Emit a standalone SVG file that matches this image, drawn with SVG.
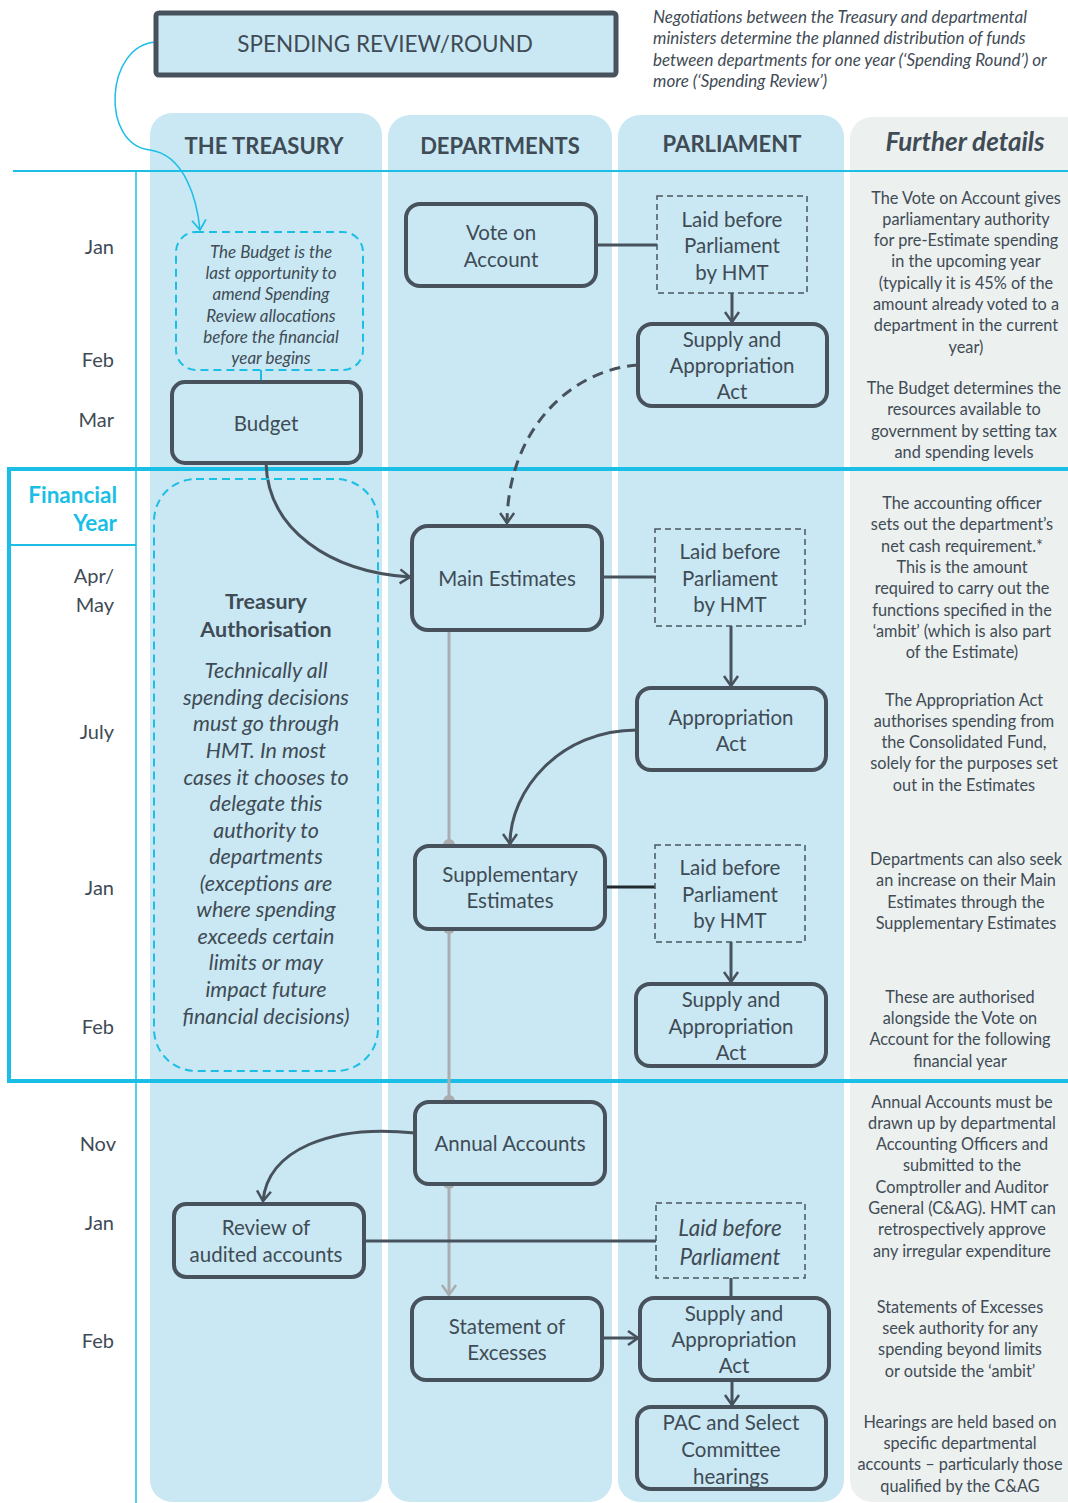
<svg xmlns="http://www.w3.org/2000/svg" width="1068" height="1503" viewBox="0 0 1068 1503">
<defs>
<style>
text{font-family:Lato,"Liberation Sans",sans-serif;fill:#3f4b55;}
.c{text-anchor:middle;dominant-baseline:central;}
.m{text-anchor:end;dominant-baseline:central;font-size:20px;}
.t{font-size:20.5px;}
.ta{font-size:21.5px;}
.h{font-size:22px;font-weight:bold;}
.d{font-size:16.3px;}
.n{font-size:17px;}
.i{font-style:italic;}
.col{fill:#c9e8f3;}
.box{fill:#c9e8f3;stroke:#47525c;stroke-width:4;}
.dash{fill:none;stroke:#4a555f;stroke-width:1.5;stroke-dasharray:6 4;}
.cdash{fill:none;stroke:#1bbfe6;stroke-width:2;stroke-dasharray:8 5;}
.ln{fill:none;stroke:#47525c;stroke-width:3;}
.gl{fill:none;stroke:#a9adb0;stroke-width:3;}
.cy{stroke:#1bbfe6;fill:none;}
</style>
<marker id="arr" viewBox="0 0 14 18" refX="12" refY="9" markerWidth="14" markerHeight="18" orient="auto" markerUnits="userSpaceOnUse"><path d="M2,2 L12,9 L2,16" fill="none" stroke="#47525c" stroke-width="2.5"/></marker>
<marker id="garr" viewBox="0 0 14 18" refX="12" refY="9" markerWidth="14" markerHeight="18" orient="auto" markerUnits="userSpaceOnUse"><path d="M2,2 L12,9 L2,16" fill="none" stroke="#a9adb0" stroke-width="2.5"/></marker>
<marker id="carr" viewBox="0 0 14 18" refX="12" refY="9" markerWidth="14" markerHeight="18" orient="auto" markerUnits="userSpaceOnUse"><path d="M2,2 L12,9 L2,16" fill="none" stroke="#1bbfe6" stroke-width="1.8"/></marker>
</defs>
<rect width="1068" height="1503" fill="#ffffff"/>

<g id="columns">
<rect class="col" x="150" y="113" width="232" height="1389" rx="22"/>
<rect class="col" x="388" y="115" width="224" height="1387" rx="22"/>
<rect class="col" x="618" y="115" width="226" height="1387" rx="22"/>
<rect x="850" y="117" width="240" height="1385" rx="22" fill="#ecf0ef"/>
<text class="c h" x="264" y="145">THE TREASURY</text>
<text class="c h" x="500" y="145">DEPARTMENTS</text>
<text class="c h" x="732" y="143">PARLIAMENT</text>
<text class="c h i" x="965" y="141" style="font-size:26px">Further details</text>
</g>

<g id="timeline">
<line class="cy" x1="13" y1="171" x2="1068" y2="171" stroke-width="2"/>
<line class="cy" x1="136" y1="171" x2="136" y2="1503" stroke-width="1.5"/>
<rect class="cy" x="9" y="469" width="1070" height="612" stroke-width="4"/>
<line class="cy" x1="9" y1="545" x2="136" y2="545" stroke-width="2"/>
<text class="m" x="117" y="494" style="fill:#1bbfe6;font-weight:bold;font-size:22.5px">Financial</text>
<text class="m" x="117" y="522" style="fill:#1bbfe6;font-weight:bold;font-size:22.5px">Year</text>
<text class="m" x="114" y="246">Jan</text>
<text class="m" x="114" y="359">Feb</text>
<text class="m" x="114" y="419">Mar</text>
<text class="m" x="114" y="575">Apr/</text>
<text class="m" x="114" y="604">May</text>
<text class="m" x="114" y="731">July</text>
<text class="m" x="114" y="887">Jan</text>
<text class="m" x="114" y="1026">Feb</text>
<text class="m" x="116" y="1143">Nov</text>
<text class="m" x="114" y="1222">Jan</text>
<text class="m" x="114" y="1340">Feb</text>
</g>

<g id="connectors">
<path class="cy" stroke-width="1.5" d="M156,42 C105,45 100,145 150,150 C185,155 197,200 200,230" marker-end="url(#carr)"/>
<line class="cy" stroke-width="2" x1="261" y1="370" x2="261" y2="382"/>
<path class="ln" d="M266,463 C268,530 330,572 410,577" marker-end="url(#arr)"/>
<line class="ln" x1="596" y1="245" x2="657" y2="245"/>
<line class="ln" x1="732" y1="293" x2="732" y2="322" marker-end="url(#arr)"/>
<path class="ln" stroke-dasharray="11 7" d="M638,365 C570,370 508,430 507,523" marker-end="url(#arr)"/>
<line class="ln" x1="602" y1="577" x2="656" y2="577"/>
<line class="ln" x1="731" y1="626" x2="731" y2="686" marker-end="url(#arr)"/>
<path class="ln" d="M637,730 C560,730 510,790 510,844" marker-end="url(#arr)"/>
<line class="gl" x1="449" y1="630" x2="449" y2="845"/>
<circle cx="449" cy="845" r="6" fill="#a9adb0"/>
<line x1="605" y1="887" x2="655" y2="887" stroke="#22292e" stroke-width="3"/>
<line class="ln" x1="731" y1="942" x2="731" y2="982" marker-end="url(#arr)"/>
<line class="gl" x1="449" y1="928" x2="449" y2="1101"/>
<circle cx="449" cy="928" r="6" fill="#a9adb0"/>
<circle cx="449" cy="1101" r="6" fill="#a9adb0"/>
<path class="ln" d="M415,1133 C330,1124 268,1150 263,1201" marker-end="url(#arr)"/>
<line class="gl" x1="449" y1="1183" x2="449" y2="1295" marker-end="url(#garr)"/>
<circle cx="449" cy="1183" r="6" fill="#a9adb0"/>
<line class="ln" x1="364" y1="1241" x2="656" y2="1241"/>
<line class="ln" x1="731" y1="1278" x2="731" y2="1298"/>
<line class="ln" x1="602" y1="1338" x2="638" y2="1338" marker-end="url(#arr)"/>
<line class="ln" x1="732" y1="1380" x2="732" y2="1405" marker-end="url(#arr)"/>
</g>

<g id="spending-review">
<rect x="156" y="13" width="460" height="62" rx="3" fill="#c9e8f3" stroke="#47525c" stroke-width="5"/>
<text class="c" x="385" y="43" style="font-size:22.5px">SPENDING REVIEW/ROUND</text>
</g>

<g id="sr-note">
<text class="n i" x="653" y="23">Negotiations between the Treasury and departmental</text>
<text class="n i" x="653" y="44">ministers determine the planned distribution of funds</text>
<text class="n i" x="653" y="66">between departments for one year (‘Spending Round’) or</text>
<text class="n i" x="653" y="87">more (‘Spending Review’)</text>
</g>

<g id="budget-note">
<rect class="cdash" x="176" y="232" width="187" height="138" rx="20"/>
<text class="c n i" x="271" y="251">The Budget is the</text>
<text class="c n i" x="271" y="272">last opportunity to</text>
<text class="c n i" x="271" y="293">amend Spending</text>
<text class="c n i" x="271" y="315">Review allocations</text>
<text class="c n i" x="271" y="336">before the financial</text>
<text class="c n i" x="271" y="357">year begins</text>
</g>

<g id="budget">
<rect class="box" x="172" y="382" width="189" height="81" rx="13"/>
<text class="c t" x="266" y="423">Budget</text>
</g>

<g id="treasury-authorisation">
<rect class="cdash" x="154" y="479" width="224" height="592" rx="42"/>
<text class="c ta" x="266" y="601" style="font-weight:bold">Treasury</text>
<text class="c ta" x="266" y="629" style="font-weight:bold">Authorisation</text>
<text class="c ta i" x="266" y="670">Technically all</text>
<text class="c ta i" x="266" y="697">spending decisions</text>
<text class="c ta i" x="266" y="723">must go through</text>
<text class="c ta i" x="266" y="750">HMT. In most</text>
<text class="c ta i" x="266" y="777">cases it chooses to</text>
<text class="c ta i" x="266" y="803">delegate this</text>
<text class="c ta i" x="266" y="830">authority to</text>
<text class="c ta i" x="266" y="856">departments</text>
<text class="c ta i" x="266" y="883">(exceptions are</text>
<text class="c ta i" x="266" y="909">where spending</text>
<text class="c ta i" x="266" y="936">exceeds certain</text>
<text class="c ta i" x="266" y="962">limits or may</text>
<text class="c ta i" x="266" y="989">impact future</text>
<text class="c ta i" x="266" y="1016">financial decisions)</text>
</g>

<g id="vote-on-account">
<rect class="box" x="406" y="204" width="190" height="82" rx="14"/>
<text class="c t" x="501" y="232">Vote on</text>
<text class="c t" x="501" y="259">Account</text>
</g>

<g id="laid-1">
<rect class="dash" x="657" y="196" width="150" height="97"/>
<text class="c t" x="732" y="219">Laid before</text>
<text class="c t" x="732" y="245">Parliament</text>
<text class="c t" x="732" y="272">by HMT</text>
</g>

<g id="supply-act-1">
<rect class="box" x="638" y="324" width="189" height="82" rx="14"/>
<text class="c t" x="732" y="339">Supply and</text>
<text class="c t" x="732" y="365">Appropriation</text>
<text class="c t" x="732" y="391">Act</text>
</g>

<g id="main-estimates">
<rect class="box" x="412" y="526" width="190" height="104" rx="16"/>
<text class="c t" x="507" y="578">Main Estimates</text>
</g>

<g id="laid-2">
<rect class="dash" x="655" y="529" width="150" height="97"/>
<text class="c t" x="730" y="551">Laid before</text>
<text class="c t" x="730" y="578">Parliament</text>
<text class="c t" x="730" y="604">by HMT</text>
</g>

<g id="appropriation-act">
<rect class="box" x="637" y="688" width="189" height="82" rx="14"/>
<text class="c t" x="731" y="717">Appropriation</text>
<text class="c t" x="731" y="743">Act</text>
</g>

<g id="supplementary-estimates">
<rect class="box" x="415" y="846" width="190" height="83" rx="14"/>
<text class="c t" x="510" y="874">Supplementary</text>
<text class="c t" x="510" y="900">Estimates</text>
</g>

<g id="laid-3">
<rect class="dash" x="655" y="845" width="150" height="97"/>
<text class="c t" x="730" y="867">Laid before</text>
<text class="c t" x="730" y="894">Parliament</text>
<text class="c t" x="730" y="920">by HMT</text>
</g>

<g id="supply-act-2">
<rect class="box" x="636" y="984" width="190" height="82" rx="14"/>
<text class="c t" x="731" y="999">Supply and</text>
<text class="c t" x="731" y="1026">Appropriation</text>
<text class="c t" x="731" y="1052">Act</text>
</g>

<g id="annual-accounts">
<rect class="box" x="415" y="1102" width="190" height="82" rx="14"/>
<text class="c t" x="510" y="1143">Annual Accounts</text>
</g>

<g id="review-audited">
<rect class="box" x="174" y="1204" width="190" height="73" rx="12"/>
<text class="c t" x="266" y="1227">Review of</text>
<text class="c t" x="266" y="1254">audited accounts</text>
</g>

<g id="laid-4">
<rect class="dash" x="656" y="1203" width="149" height="75"/>
<text class="c i" x="730" y="1227" style="font-size:22.5px">Laid before</text>
<text class="c i" x="730" y="1256" style="font-size:22.5px">Parliament</text>
</g>

<g id="statement-excesses">
<rect class="box" x="412" y="1298" width="190" height="82" rx="14"/>
<text class="c t" x="507" y="1326">Statement of</text>
<text class="c t" x="507" y="1352">Excesses</text>
</g>

<g id="supply-act-3">
<rect class="box" x="640" y="1298" width="189" height="82" rx="14"/>
<text class="c t" x="734" y="1313">Supply and</text>
<text class="c t" x="734" y="1339">Appropriation</text>
<text class="c t" x="734" y="1365">Act</text>
</g>

<g id="pac-hearings">
<rect class="box" x="637" y="1407" width="189" height="82" rx="14"/>
<text class="c t" x="731" y="1422">PAC and Select</text>
<text class="c t" x="731" y="1449">Committee</text>
<text class="c t" x="731" y="1476">hearings</text>
</g>

<g id="further-details">
<text class="c d" x="966" y="197">The Vote on Account gives</text>
<text class="c d" x="966" y="218">parliamentary authority</text>
<text class="c d" x="966" y="239">for pre-Estimate spending</text>
<text class="c d" x="966" y="260">in the upcoming year</text>
<text class="c d" x="966" y="282">(typically it is 45% of the</text>
<text class="c d" x="966" y="303">amount already voted to a</text>
<text class="c d" x="966" y="324">department in the current</text>
<text class="c d" x="966" y="346">year)</text>
<text class="c d" x="964" y="387">The Budget determines the</text>
<text class="c d" x="964" y="408">resources available to</text>
<text class="c d" x="964" y="430">government by setting tax</text>
<text class="c d" x="964" y="451">and spending levels</text>
<text class="c d" x="962" y="502">The accounting officer</text>
<text class="c d" x="962" y="523">sets out the department’s</text>
<text class="c d" x="962" y="545">net cash requirement.*</text>
<text class="c d" x="962" y="566">This is the amount</text>
<text class="c d" x="962" y="587">required to carry out the</text>
<text class="c d" x="962" y="609">functions specified in the</text>
<text class="c d" x="962" y="630">‘ambit’ (which is also part</text>
<text class="c d" x="962" y="651">of the Estimate)</text>
<text class="c d" x="964" y="699">The Appropriation Act</text>
<text class="c d" x="964" y="720">authorises spending from</text>
<text class="c d" x="964" y="741">the Consolidated Fund,</text>
<text class="c d" x="964" y="762">solely for the purposes set</text>
<text class="c d" x="964" y="784">out in the Estimates</text>
<text class="c d" x="966" y="858">Departments can also seek</text>
<text class="c d" x="966" y="879">an increase on their Main</text>
<text class="c d" x="966" y="901">Estimates through the</text>
<text class="c d" x="966" y="922">Supplementary Estimates</text>
<text class="c d" x="960" y="996">These are authorised</text>
<text class="c d" x="960" y="1017">alongside the Vote on</text>
<text class="c d" x="960" y="1038">Account for the following</text>
<text class="c d" x="960" y="1060">financial year</text>
<text class="c d" x="962" y="1101">Annual Accounts must be</text>
<text class="c d" x="962" y="1122">drawn up by departmental</text>
<text class="c d" x="962" y="1143">Accounting Officers and</text>
<text class="c d" x="962" y="1164">submitted to the</text>
<text class="c d" x="962" y="1186">Comptroller and Auditor</text>
<text class="c d" x="962" y="1207">General (C&amp;AG). HMT can</text>
<text class="c d" x="962" y="1228">retrospectively approve</text>
<text class="c d" x="962" y="1250">any irregular expenditure</text>
<text class="c d" x="960" y="1306">Statements of Excesses</text>
<text class="c d" x="960" y="1327">seek authority for any</text>
<text class="c d" x="960" y="1348">spending beyond limits</text>
<text class="c d" x="960" y="1370">or outside the ‘ambit’</text>
<text class="c d" x="960" y="1421">Hearings are held based on</text>
<text class="c d" x="960" y="1442">specific departmental</text>
<text class="c d" x="960" y="1463">accounts – particularly those</text>
<text class="c d" x="960" y="1485">qualified by the C&amp;AG</text>
</g>
</svg>
